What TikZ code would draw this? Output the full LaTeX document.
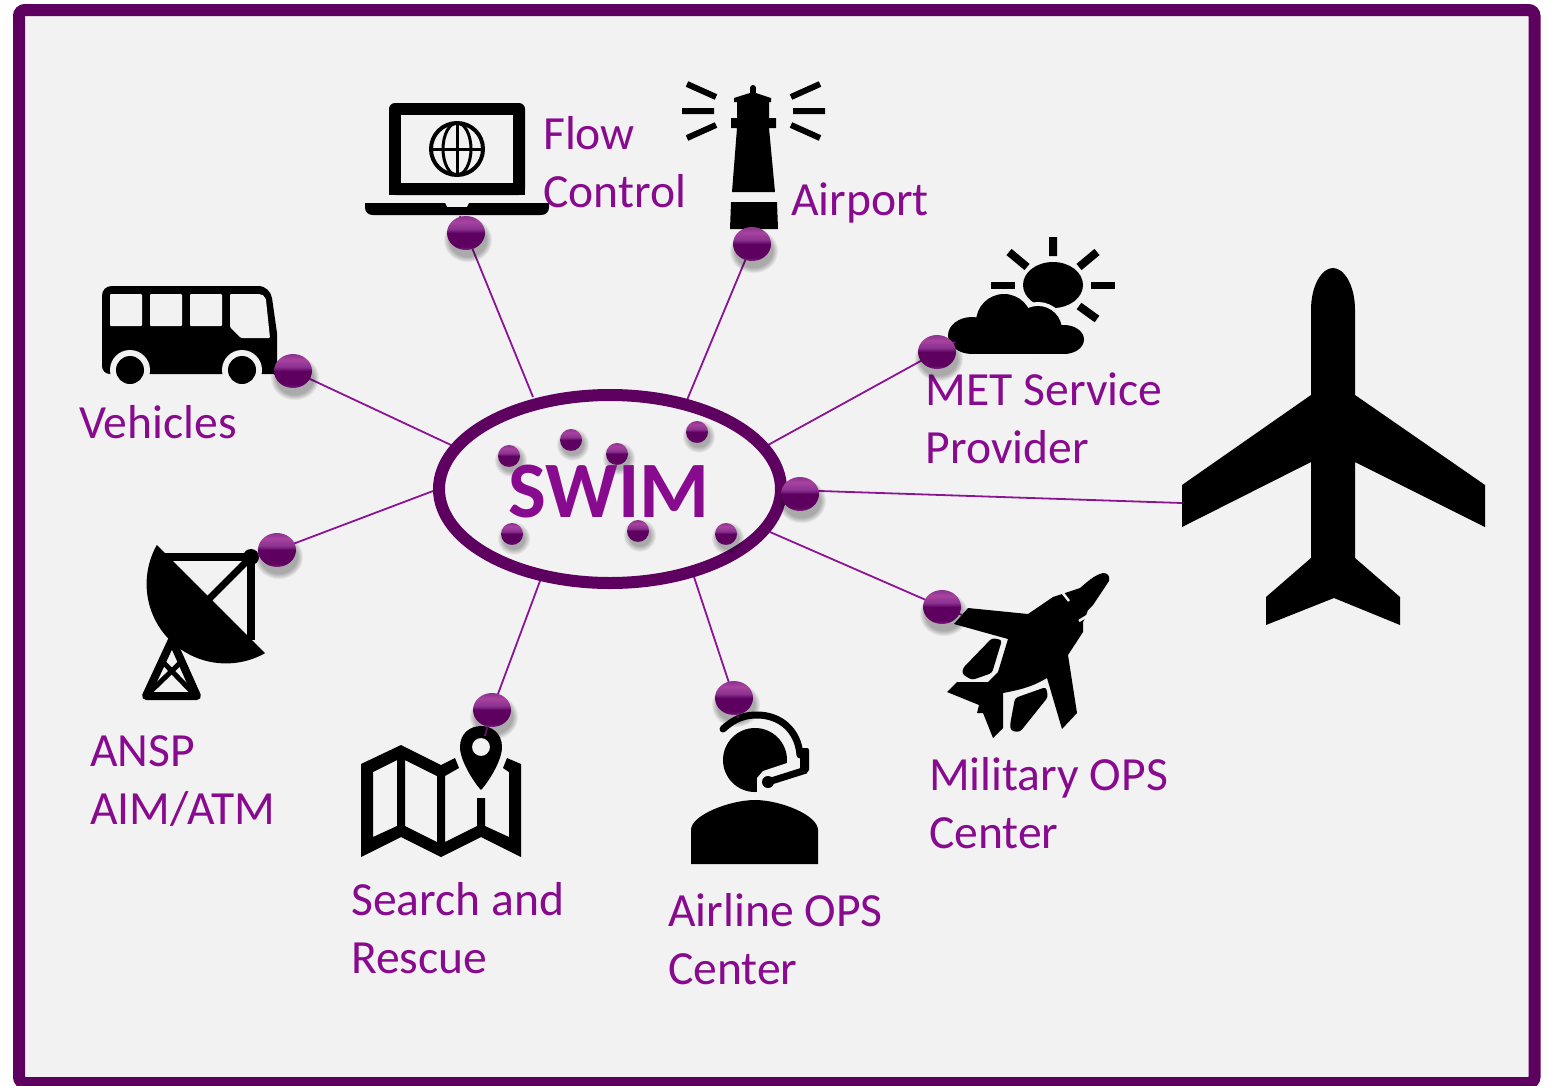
\documentclass[tikz,border=0pt]{standalone}
\usepackage{fontspec}
\setmainfont{Carlito}
\usetikzlibrary{shapes.geometric,calc}
\definecolor{framepurple}{HTML}{5E0060}
\definecolor{textpurple}{HTML}{880A8E}
\definecolor{linepurple}{HTML}{8B1495}
\definecolor{ballhi}{HTML}{A9429F}
\definecolor{ballrim}{HTML}{7E2A80}
\definecolor{ballcap}{HTML}{8A3290}
\definecolor{panel}{HTML}{F2F2F2}
\pgfdeclareverticalshading{orbshade}{100bp}{
  color(0bp)=(ballrim); color(25bp)=(ballrim); color(30bp)=(framepurple);
  color(50bp)=(framepurple); color(56bp)=(ballcap); color(67bp)=(ballhi);
  color(75bp)=(ballcap); color(100bp)=(ballcap)}
\pgfdeclarelayer{front}
\pgfsetlayers{main,front}
\tikzset{
  lbl/.style={text=textpurple,inner sep=0pt,anchor=base west,align=left,font=\fontsize{47.6}{57.2}\selectfont},
  link/.style={draw=linepurple,line width=1.8pt},
  orb/.style={ellipse,inner sep=0pt,shade,shading=orbshade},
  icon/.style={fill=black,draw=none},
}
\newcommand{\swimorb}[5]{%
  \begin{pgfonlayer}{front}
  \foreach \k in {0,...,5}{
    \fill[black,opacity=.055] (#2+2,#3+#5*0.42)
      ellipse [x radius={#4+5-\k},y radius={#5+5-\k}];
  }
  \node[orb,minimum width=#4*2pt,minimum height=#5*2pt] (#1) at (#2,#3) {};
  \end{pgfonlayer}
}
\begin{document}
\begin{tikzpicture}[x=1pt,y=-1pt]
\useasboundingbox (0,0) rectangle (1552,1085);
\fill[white] (0,0) rectangle (1552,1085);
\begin{scope}
\clip (0,0) rectangle (1552,1085);
\node[draw=framepurple,fill=panel,line width=12pt,rounded corners=6pt,minimum width=1515.5pt,minimum height=1073pt,inner sep=0pt] (frame) at (776.75,546.5) {};
\end{scope}

% laptop
\fill[icon,rounded corners=6pt] (389,195) -- (389,103) -- (525,103) -- (525,195) -- cycle;
\fill[icon] (389,180) rectangle (525,195);
\fill[panel] (401,115) rectangle (513,183);
\fill[icon] (365,203) -- (445,203) -- (447,207) -- (467,207) -- (469,203) -- (549,203) -- (549,207) .. controls (549,212) and (546,215) .. (541,215) -- (373,215) .. controls (368,215) and (365,212) .. (365,207) -- cycle;
\draw[line width=4pt] (457,149) circle (26);
\draw[line width=3pt] (457,149) ellipse [x radius=14,y radius=26];
\draw[line width=3pt] (431,149) -- (483,149) (457,123) -- (457,175);

% lighthouse
\draw[line width=6pt,line cap=round] (753,88) -- (753,98);
\fill[icon] (734,98) -- (753,92) -- (771,98) -- (771,102) -- (769,102) -- (769,118) -- (776,118) -- (776,128) -- (769,128) -- (775,192) -- (732,192) -- (737,128) -- (731,128) -- (731,118) -- (737,118) -- (737,102) -- (734,102) -- cycle;
\fill[icon] (731,202) -- (777,202) -- (778,229) -- (730,229) -- cycle;
\draw[line width=6pt] (687,84) -- (716,97) (682,111) -- (714,111) (687,138) -- (716,125)
  (820,84) -- (791,97) (825,111) -- (793,111) (820,138) -- (791,125);

% bus
\fill[icon] (112,286) -- (258,286) .. controls (266,286) and (271,292) .. (272,298) -- (277,333) -- (277,374) -- (110,374) .. controls (105,374) and (102,370) .. (102,366) -- (102,296) .. controls (102,290) and (106,286) .. (112,286) -- cycle;
\fill[panel,rounded corners=1pt] (110,294) rectangle (142,326) (150,294) rectangle (182,326) (190,294) rectangle (222,326);
\fill[panel,rounded corners=1pt] (230,294) -- (258,294) .. controls (262,294) and (265,296) .. (266,300) -- (270,338) -- (241,338) -- (230,327) -- cycle;
\fill[panel] (130,370) circle (20) (242,370) circle (20);
\fill[icon] (130,370) circle (14) (242,370) circle (14);

% sun and cloud
\draw[line width=8pt] (1053,237) -- (1053,256) (1009,252) -- (1027,267) (1097,252) -- (1079,267) (1097,319) -- (1079,306);
\draw[line width=7pt] (991,285) -- (1015,285) (1091,285) -- (1115,285);
\fill[icon] (1053,285) ellipse [x radius=30,y radius=23];
\draw[panel,line width=8pt] (1004,322) circle (28) (1038,330) circle (24);
\fill[icon] (972,335.5) ellipse [x radius=24,y radius=18.5];
\fill[icon] (1064,339.5) ellipse [x radius=20,y radius=14.5];
\fill[icon] (1004,322) circle (28) (1038,330) circle (24);
\fill[icon] (972,328) rectangle (1064,354);

% dish
\begin{scope}
\clip (50,438) -- (350,738) -- (50,738) -- cycle;
\fill[icon] (226,584) circle (79.4);
\end{scope}
\draw[line width=8pt] (160,557) -- (251,557) -- (251,640);
\draw[line width=7pt] (251,557) -- (205,603);
\fill[icon] (251,557) circle (8);
\draw[line width=8pt,line join=round] (172,640) -- (146,696) -- (197,696) -- cycle;
\draw[line width=5pt] (163,662) -- (192,692) (181,662) -- (150,692);

% map
\fill[icon,even odd rule] (361,764) -- (401,745) -- (441,765) -- (455,758) -- (459,768) -- (445,776) -- (445,842) -- (477,826) -- (477,798) -- (485,798) -- (485,826) -- (509,837) -- (509,772) -- (503,768) -- (507,758) -- (521,764) -- (521,857) -- (481,837) -- (441,857) -- (401,837) -- (361,857) -- cycle
  (373,772) -- (397,760) -- (397,826) -- (373,837) -- cycle
  (405,760) -- (437,776) -- (437,842) -- (405,826) -- cycle;
\fill[icon,even odd rule] (460,747) .. controls (460,762) and (476,785) .. (481,790) .. controls (486,785) and (502,762) .. (502,747) .. controls (502,719) and (460,719) .. (460,747) -- cycle
  (481,747) circle (9);

% headset person
\fill[icon] (755,760) circle (32);
\fill[panel] (757,797) -- (757,778) -- (763,771) -- (787,763) -- (800,770) -- (800,800) -- cycle;
\fill[icon] (691,864) -- (691,830) .. controls (691,815) and (730,800) .. (755,800) .. controls (780,800) and (818,815) .. (818,830) -- (818,864) -- cycle;
\draw[line width=7pt,line cap=round] (723,729) .. controls (735,718) and (745,715) .. (757,715) .. controls (780,715) and (798,730) .. (800,755);
\fill[icon,rounded corners=2pt] (800,748) -- (809,748) -- (809,772) -- (800,775) -- cycle;
\draw[line width=7pt] (768,782) -- (806,770);
\fill[icon] (768,782) circle (6);

% fighter jet
\fill[icon] (1103,573) .. controls (1108,573) and (1110,576) .. (1109,581) -- (1093,605) -- (1088,610) -- (1085,618) -- (1083,622) -- (1083,632) -- (1068,655) -- (1077,713) -- (1062,729) -- (1047,678) .. controls (1030,688) and (1018,690) .. (1003,693) -- (1003,728) -- (993,738) -- (983,713) -- (977,713) -- (979,705) -- (947,692) -- (957,682) -- (988,682) -- (998,672) -- (1008,639) -- (954,624) -- (968,608) -- (1028,614) -- (1053,597) -- (1068,592) -- (1080,588) .. controls (1086,583) and (1094,575) .. (1103,573) -- cycle;
\draw[panel,line width=2.5pt] (1062,592) -- (1069,601) (1079,621) -- (1087,616);
\fill[icon,rounded corners=3pt] (992,638) -- (1002,640) -- (992,673) -- (972,680) -- (962,674) -- (963,668) -- cycle;
\fill[icon,rounded corners=3pt] (1015,698) -- (1046,687) -- (1048,697) -- (1020,732) -- (1011,731) -- (1010,725) -- cycle;

% airliner
\fill[icon] (1311,395) -- (1311,310) .. controls (1311,285) and (1322,268) .. (1333,268) .. controls (1344,268) and (1355,285) .. (1355,310) -- (1355,395) -- (1485,485) -- (1485,527) -- (1355,462) -- (1355,558) -- (1400,597) -- (1400,625) -- (1334,598) -- (1266,625) -- (1266,597) -- (1311,558) -- (1311,462) -- (1182,527) -- (1182,485) -- cycle;

% connector ends
\coordinate (hF) at (533,397); \coordinate (eF) at (460,216);
\coordinate (hA) at (687,400); \coordinate (eA) at (758,230);
\coordinate (hV) at (451,445);
\coordinate (hM) at (768,445); \coordinate (eM) at (955,342);
\coordinate (hP) at (790,490); \coordinate (eP) at (1182,503);
\coordinate (hO) at (770,532); \coordinate (eO) at (962,615);
\coordinate (hL) at (694,577); \coordinate (eL) at (738,718);
\coordinate (hS) at (540,581); \coordinate (eS) at (485,736);
\coordinate (hN) at (433,491); \coordinate (eN) at (258,556);

% balls on the front layer
\swimorb{bF}{466}{233}{19}{17}
\swimorb{bA}{752}{244}{19}{17}
\swimorb{bV}{293}{371}{19}{17}
\swimorb{bM}{937}{352}{19}{17}
\swimorb{bP}{800}{494}{19}{17}
\swimorb{bO}{942}{607}{19}{17}
\swimorb{bL}{734}{698}{19}{17}
\swimorb{bS}{492}{710}{19}{17}
\swimorb{bN}{277}{550}{19}{17}
\swimorb{s1}{509}{456}{11}{11}
\swimorb{s2}{571}{440}{11}{11}
\swimorb{s3}{617}{454}{11}{11}
\swimorb{s4}{697}{432}{11}{11}
\swimorb{s5}{512}{534}{11}{11}
\swimorb{s6}{638}{531}{11}{11}
\swimorb{s7}{726}{534}{11}{11}

% connectors
\draw[link] (hF) -- (bF.center) -- (eF);
\draw[link] (hA) -- (bA.center) -- (eA);
\draw[link] (hV) -- (bV.center);
\draw[link] (hM) -- (bM.center) -- (eM);
\draw[link] (hP) -- (eP);
\draw[link] (hO) -- (bO.center) -- (eO);
\draw[link] (hL) -- (bL.center) -- (eL);
\draw[link] (hS) -- (bS.center) -- (eS);
\draw[link] (hN) -- (bN.center) -- (eN);

% hub
\node[ellipse,draw=framepurple,line width=12pt,minimum width=342pt,minimum height=188pt,inner sep=0pt] (hub) at (610,489) {};

% text
\begin{pgfonlayer}{front}
\node[text=textpurple,inner sep=0pt,anchor=base,font=\fontsize{80}{80}\selectfont\bfseries] (swim) at (609,517) {SWIM};
\end{pgfonlayer}
\node[lbl] (tF) at (543,207) {Flow\\Control};
\node[lbl] (tA) at (791,215) {Airport};
\node[lbl] (tM) at (925.5,463) {MET Service\\Provider};
\node[lbl] (tV) at (79,438) {Vehicles};
\node[lbl] (tN) at (90,824) {ANSP\\AIM/ATM};
\node[lbl] (tS) at (351,973) {Search and\\Rescue};
\node[lbl] (tL) at (668,984) {Airline OPS\\Center};
\node[lbl] (tO) at (929,848) {Military OPS\\Center};
\end{tikzpicture}
\end{document}
